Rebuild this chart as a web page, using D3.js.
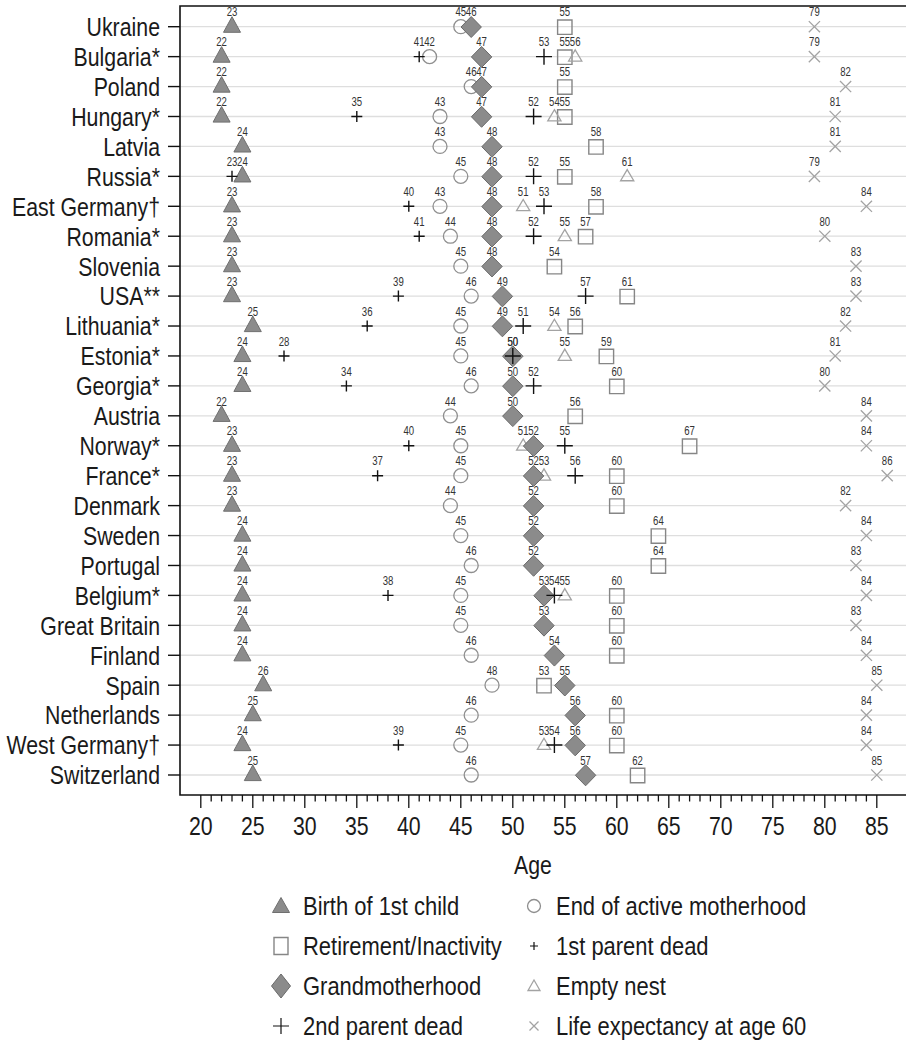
<!DOCTYPE html>
<html>
<head>
<meta charset="utf-8">
<script src="https://cdn.jsdelivr.net/npm/d3@7"></script>
<style>
  html, body { margin: 0; padding: 0; background: #fff; }
  svg { display: block; }
  text { font-family: 'Liberation Sans', Arial, sans-serif; }
</style>
</head>
<body>
<script>
// Life-course events of women, median age by country
const countries = ["Ukraine", "Bulgaria*", "Poland", "Hungary*", "Latvia", "Russia*",
  "East Germany\u2020", "Romania*", "Slovenia", "USA**", "Lithuania*", "Estonia*", "Georgia*",
  "Austria", "Norway*", "France*", "Denmark", "Sweden", "Portugal", "Belgium*", "Great Britain",
  "Finland", "Spain", "Netherlands", "West Germany\u2020", "Switzerland"];

const birthFirstChild   = [23,22,22,22,24,24,23,23,23,23,25,24,24,22,23,23,23,24,24,24,24,24,26,25,24,25];
const endActiveMother   = [45,42,46,43,43,45,43,44,45,46,45,45,46,44,45,45,44,45,46,45,45,46,48,46,45,46];
const retirement        = [55,55,55,55,58,55,58,57,54,61,56,59,60,56,67,60,60,64,64,60,60,60,53,60,60,62];
const emptyNest         = [null,56,null,54,null,61,51,55,null,null,54,55,null,null,51,53,null,null,null,55,null,null,null,null,53,null];
const grandmotherhood   = [46,47,47,47,48,48,48,48,48,49,49,50,50,50,52,52,52,52,52,53,53,54,55,56,56,57];
const firstParentDead   = [null,41,null,35,null,23,40,41,null,39,36,28,34,null,40,37,null,null,null,38,null,null,null,null,39,null];
const secondParentDead  = [null,53,null,52,null,52,53,52,null,57,51,50,52,null,55,56,null,null,null,54,null,null,null,null,54,null];
const lifeExpectancy60  = [79,79,82,81,81,79,84,80,83,83,82,81,80,84,84,86,82,84,83,84,83,84,85,84,84,85];

const xTicks = [20,25,30,35,40,45,50,55,60,65,70,75,80,85];

const W = 906, H = 1047;
const svg = d3.select("body").append("svg").attr("width", W).attr("height", H);

const x = d3.scaleLinear().domain([18, 88]).range([180, 908]);
const y = d3.scalePoint().domain(countries).range([26.7, 775]);
const plotTop = 6, plotBottom = 795, plotLeft = 180;

// condensed text: horizontal squeeze around the anchor point
const SQ = 0.82;
const squeeze = (px, py, k = SQ) => `translate(${px},${py}) scale(${k},1)`;

// marker shapes
const shapes = {
  birth:  "M0,-10L8.5,5.6L-8.5,5.6Z",
  circle: d3.symbol().type(d3.symbolCircle).size(Math.PI * 49)(),
  square: "M-7.2,-6.7H7.2V7.7H-7.2Z",
  nest:   "M0,-6.8L6.6,4.4L-6.6,4.4Z",
  diamond:"M0,-10.2L10.2,0.3L0,10.8L-10.2,0.3Z",
  plusS:  "M-5.5,0H5.5M0,-5.5V5.5",
  plusL:  "M-8,0H8M0,-8V8",
  cross:  "M-5.6,-5.6L5.6,5.6M5.6,-5.6L-5.6,5.6"
};

const series = [
  { key: "birth",   values: birthFirstChild,  fill: "#8b8b8b", stroke: "#6f6f6f", sw: 1 },
  { key: "circle",  values: endActiveMother,  fill: "none",    stroke: "#8f8f8f", sw: 1.3 },
  { key: "square",  values: retirement,       fill: "none",    stroke: "#868686", sw: 1.4 },
  { key: "nest",    values: emptyNest,        fill: "none",    stroke: "#a3a3a3", sw: 1.3 },
  { key: "diamond", values: grandmotherhood,  fill: "#8b8b8b", stroke: "#6a6a6a", sw: 1 },
  { key: "plusS",   values: firstParentDead,  fill: "none",    stroke: "#111",    sw: 1.4 },
  { key: "plusL",   values: secondParentDead, fill: "none",    stroke: "#111",    sw: 1.4 },
  { key: "cross",   values: lifeExpectancy60, fill: "none",    stroke: "#a3a3a3", sw: 1.3 }
];

// row grid lines
svg.append("g").selectAll("line").data(countries).join("line")
  .attr("x1", plotLeft).attr("x2", W)
  .attr("y1", d => y(d)).attr("y2", d => y(d))
  .attr("stroke", "#dedede").attr("stroke-width", 1.3);

// frame: top, left and bottom lines
svg.append("path")
  .attr("d", `M${W},${plotTop}H${plotLeft}V${plotBottom}H${W}`)
  .attr("fill", "none").attr("stroke", "#111").attr("stroke-width", 1.6);

// y axis ticks and labels
const yAxis = svg.append("g");
yAxis.selectAll("line").data(countries).join("line")
  .attr("x1", 168).attr("x2", plotLeft)
  .attr("y1", d => y(d)).attr("y2", d => y(d))
  .attr("stroke", "#111").attr("stroke-width", 1.4);
yAxis.selectAll("text").data(countries).join("text")
  .attr("transform", d => squeeze(160, y(d)))
  .attr("dy", "0.36em")
  .attr("text-anchor", "end")
  .attr("font-size", 26).attr("fill", "#1a1a1a")
  .text(d => d);

// x axis: major and minor ticks
const xAxis = svg.append("g");
xAxis.selectAll("line").data(d3.range(20, 86)).join("line")
  .attr("x1", d => x(d)).attr("x2", d => x(d))
  .attr("y1", plotBottom).attr("y2", d => plotBottom + (d % 5 === 0 ? 13 : 6.5))
  .attr("stroke", "#111").attr("stroke-width", 1.3);
xAxis.selectAll("text").data(xTicks).join("text")
  .attr("transform", d => squeeze(x(d), 835))
  .attr("text-anchor", "middle")
  .attr("font-size", 26).attr("fill", "#1a1a1a")
  .text(d => d);

svg.append("text")
  .attr("transform", squeeze(533, 874))
  .attr("text-anchor", "middle")
  .attr("font-size", 26).attr("fill", "#1a1a1a")
  .text("Age");

// markers and value labels
const marks = svg.append("g");
const labels = svg.append("g");
series.forEach(s => {
  const pts = s.values.map((v, i) => ({ v, c: countries[i] })).filter(p => p.v != null);
  marks.append("g").selectAll("path").data(pts).join("path")
    .attr("d", shapes[s.key])
    .attr("transform", p => `translate(${x(p.v)},${y(p.c)})`)
    .attr("fill", s.fill).attr("stroke", s.stroke).attr("stroke-width", s.sw);
  labels.append("g").selectAll("text").data(pts).join("text")
    .attr("transform", p => squeeze(x(p.v), y(p.c) - 10.3, 0.8))
    .attr("text-anchor", "middle")
    .attr("font-size", 12).attr("fill", "#333")
    .text(p => p.v);
});

// legend
const legendItems = [
  { key: "birth",   label: "Birth of 1st child",        col: 0, row: 0 },
  { key: "circle",  label: "End of active motherhood",  col: 1, row: 0 },
  { key: "square",  label: "Retirement/Inactivity",     col: 0, row: 1 },
  { key: "plusS",   label: "1st parent dead",           col: 1, row: 1 },
  { key: "diamond", label: "Grandmotherhood",           col: 0, row: 2 },
  { key: "nest",    label: "Empty nest",                col: 1, row: 2 },
  { key: "plusL",   label: "2nd parent dead",           col: 0, row: 3 },
  { key: "cross",   label: "Life expectancy at age 60", col: 1, row: 3 }
];
const legendShapes = {
  birth:  "M0,-8.5L8.5,6.5L-8.5,6.5Z",
  circle: d3.symbol().type(d3.symbolCircle).size(Math.PI * 42)(),
  square: "M-7,-8.5H7V8.5H-7Z",
  plusS:  "M-4,0H4M0,-4V4",
  diamond:"M0,-12L9.5,0L0,12L-9.5,0Z",
  nest:   "M0,-6L6,4.5L-6,4.5Z",
  plusL:  "M-8,0H8M0,-8V8",
  cross:  "M-4.5,-4.5L4.5,4.5M4.5,-4.5L-4.5,4.5"
};
const styleOf = Object.fromEntries(series.map(s => [s.key, s]));
const legend = svg.append("g");
const lg = legend.selectAll("g").data(legendItems).join("g")
  .attr("transform", d => `translate(${d.col ? 534 : 281},${906 + d.row * 40})`);
lg.append("path")
  .attr("d", d => legendShapes[d.key])
  .attr("fill", d => styleOf[d.key].fill)
  .attr("stroke", d => styleOf[d.key].stroke)
  .attr("stroke-width", d => d.key.startsWith("plus") ? 1.2 : styleOf[d.key].sw);
lg.append("text")
  .attr("transform", squeeze(22, 0, 0.845))
  .attr("dy", "0.36em")
  .attr("font-size", 26).attr("fill", "#1a1a1a")
  .text(d => d.label);
</script>
</body>
</html>
